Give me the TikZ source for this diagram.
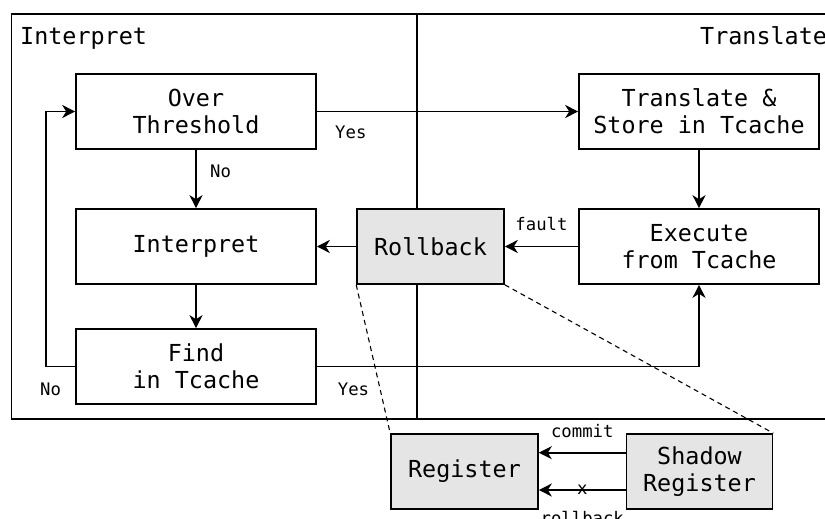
\documentclass[tikz,border=0pt]{standalone}
\usepackage{fontspec}
\setmainfont{DejaVu Sans Mono}
\usetikzlibrary{arrows.meta}
\begin{document}
\begin{tikzpicture}[x=1pt,y=-1pt,
  box/.style={draw, line width=1.6pt, minimum width=240pt, minimum height=75pt,
    inner sep=0pt, align=center, font=\fontsize{23.4}{27}\selectfont},
  graybox/.style={box, fill=black!10, minimum width=147pt},
  title/.style={font=\fontsize{23.4}{27}\selectfont, inner sep=0pt, anchor=base west},
  lbl/.style={font=\fontsize{17.3}{20}\selectfont, inner sep=0pt},
  conn/.style={line width=1.6pt},
  arr/.style={conn, -{Stealth[length=13pt,width=13pt,inset=4pt]}},
  zoomline/.style={line width=1.1pt, dash pattern=on 5pt off 4pt}]

\useasboundingbox (0,0) rectangle (825,519);
\clip (0,0) rectangle (825,519);

% frame with the two regions
\draw[conn] (11.5,14) rectangle (870,419);
\draw[conn] (417,14) -- (417,419);
\node[title] (tinterp) at (20,45) {Interpret};
\node[title] (ttrans) at (700,45) {Translate};

% interpreter side
\node[box] (over) at (196,111.5) {Over\\Threshold};
\node[box] (interp) at (196,246.5) {Interpret};
\node[box] (find) at (196,366.5) {Find\\in Tcache};

% translator side
\node[box] (trans) at (699,111.5) {Translate \&\\Store in Tcache};
\node[box] (exec) at (699,246.5) {Execute\\from Tcache};

% rollback and its register detail
\node[graybox] (rollback) at (430.5,246.5) {Rollback};
\node[graybox] (reg) at (464.5,471.5) {Register};
\node[graybox, minimum width=146pt] (shadow) at (699.5,471.5) {Shadow\\Register};

% control flow
\draw[arr] (over) -- (trans);
\draw[arr] (over) -- (interp);
\draw[arr] (interp) -- (find);
\coordinate (loop) at (45.7,366.5);
\draw[arr] (find.west) -- (loop) |- (over.west);
\draw[arr] (find.east) -| (exec.south);
\draw[arr] (trans) -- (exec);
\draw[arr] (exec) -- (rollback) node[lbl, midway, above=15pt] (lfault) {fault};
\draw[arr] (rollback) -- (interp);

\node[lbl, anchor=base west] (lyes1) at (335,138) {Yes};
\node[lbl, anchor=base west] (lno1) at (210,177) {No};
\node[lbl, anchor=base west] (lno2) at (40,395) {No};
\node[lbl, anchor=base west] (lyes2) at (337.7,395) {Yes};

% zoom-in guides
\draw[zoomline] (rollback.south west) -- (reg.north west);
\draw[zoomline] (rollback.south east) -- (shadow.north east);

% register transfers
\draw[arr] ([yshift=18.8pt]shadow.west) -- ([yshift=18.8pt]reg.east)
  node[lbl, midway, above=14.5pt] (lcommit) {commit};
\draw[arr] ([yshift=-18.5pt]shadow.west) -- ([yshift=-18.5pt]reg.east)
  node[lbl, midway] (lx) {x}
  node[lbl, midway, below=20pt, anchor=north] (lroll) {rollback};
\end{tikzpicture}
\end{document}
